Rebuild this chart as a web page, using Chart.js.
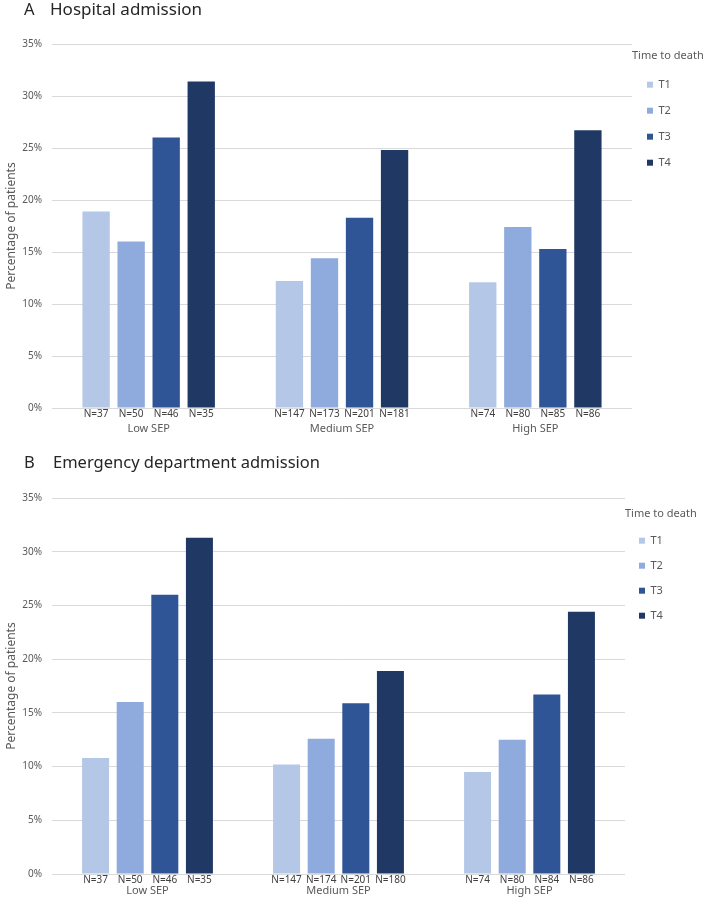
<!DOCTYPE html>
<html>
<head>
<meta charset="utf-8">
<script src="https://cdn.jsdelivr.net/npm/chart.js@4.4.1/dist/chart.umd.min.js"></script>
<style>
  body { margin: 0; background: #fff; font-family: "Noto Sans", sans-serif; }
  .panel { position: absolute; left: 0; width: 708px; }
  .heading { position: absolute; font-size: 16.5px; color: #262626; white-space: nowrap; }
  canvas { position: absolute; left: 0; top: 0; }
</style>
</head>
<body>
<div class="panel" style="top:0;height:440px">
  <canvas id="chartA" width="708" height="440"></canvas>
  <div class="heading" style="left:24px;top:-3px">A</div>
  <div class="heading" style="left:50px;top:-3px;font-size:17px">Hospital admission</div>
</div>
<div class="panel" style="top:440px;height:459px">
  <canvas id="chartB" width="708" height="459"></canvas>
  <div class="heading" style="left:24px;top:10px">B</div>
  <div class="heading" style="left:53px;top:10px">Emergency department admission</div>
</div>
<script>
const categories = ["Low SEP", "Medium SEP", "High SEP"];
const seriesNames = ["T1", "T2", "T3", "T4"];
const seriesColors = ["#b4c7e7", "#8faadc", "#2f5597", "#203864"];
const yTicks = [0, 5, 10, 15, 20, 25, 30, 35];

// A - hospital admission (% of patients), one array per time-to-death group
const hospT1 = [18.9, 12.2, 12.1];
const hospT2 = [16.0, 14.4, 17.4];
const hospT3 = [26.0, 18.3, 15.3];
const hospT4 = [31.4, 24.8, 26.7];
const hospN1 = [37, 147, 74];
const hospN2 = [50, 173, 80];
const hospN3 = [46, 201, 85];
const hospN4 = [35, 181, 86];

// B - emergency department admission
const edT1 = [10.8, 10.2, 9.5];
const edT2 = [16.0, 12.6, 12.5];
const edT3 = [26.0, 15.9, 16.7];
const edT4 = [31.3, 18.9, 24.4];
const edN1 = [37, 147, 74];
const edN2 = [50, 174, 80];
const edN3 = [46, 201, 84];
const edN4 = [35, 180, 86];

// writes "N=.." under every bar, at the bar's own x
const nLabels = {
  id: "nLabels",
  afterDraw(chart, args, opts) {
    const ctx = chart.ctx;
    ctx.save();
    ctx.font = '10px "Noto Sans"';
    ctx.fillStyle = "#404040";
    ctx.textAlign = "center";
    ctx.textBaseline = "middle";
    chart.data.datasets.forEach((ds, i) => {
      chart.getDatasetMeta(i).data.forEach((bar, j) => {
        ctx.fillText("N=" + ds.counts[j], bar.x, chart.chartArea.bottom + opts.offset);
      });
    });
    ctx.restore();
  }
};

// legend box is sized from the item labels only, so widen it to fit its title
const legendWidth = {
  id: "legendWidth",
  beforeLayout(chart, args, opts) {
    const lg = chart.legend;
    if (lg && !lg._widened) {
      const fit = lg.fit.bind(lg);
      lg.fit = function () { fit(); this.width = opts.width; };
      lg._widened = true;
    }
  }
};

function makeChart(id, values, counts, lay) {
  const ctx = document.getElementById(id).getContext("2d");
  return new Chart(ctx, {
    type: "bar",
    data: {
      labels: categories,
      datasets: seriesNames.map((name, i) => ({
        label: name,
        data: values[i],
        counts: counts[i],
        backgroundColor: seriesColors[i],
        categoryPercentage: 0.725,
        barPercentage: 0.78
      }))
    },
    options: {
      responsive: false,
      animation: false,
      layout: { padding: { left: 0, right: 0, top: lay.top, bottom: 0 } },
      scales: {
        x: {
          grid: { display: false, drawTicks: false },
          border: { display: false },
          ticks: { color: "#595959", font: { family: "Noto Sans", size: 11 }, padding: lay.xPad },
          afterFit: (scale) => { scale.height = lay.xHeight; }
        },
        y: {
          min: 0,
          max: 35,
          afterBuildTicks: (scale) => { scale.ticks = yTicks.map(v => ({ value: v })); },
          grid: { color: "#d9d9d9", drawTicks: false },
          border: { display: false },
          ticks: {
            color: "#595959",
            font: { family: "Noto Sans", size: 10 },
            padding: 10,
            callback: (v) => v + "%"
          },
          title: {
            display: true,
            text: "Percentage of patients",
            color: "#595959",
            font: { family: "Noto Sans", size: 12 },
            padding: { top: 4, bottom: 0 }
          },
          afterFit: (scale) => { scale.width = 52; }
        }
      },
      plugins: {
        legend: {
          position: "right",
          align: "start",
          title: {
            display: true,
            position: "start",
            text: "Time to death",
            color: "#595959",
            font: { family: "Noto Sans", size: 11 },
            padding: lay.legendTitlePad
          },
          labels: {
            boxWidth: 6,
            boxHeight: 6,
            padding: lay.legendPad,
            color: "#595959",
            font: { family: "Noto Sans", size: 11 }
          }
        },
        legendWidth: { width: lay.legendW },
        tooltip: { enabled: false },
        nLabels: { offset: lay.nOffset }
      }
    },
    plugins: [nLabels, legendWidth]
  });
}

makeChart("chartA", [hospT1, hospT2, hospT3, hospT4], [hospN1, hospN2, hospN3, hospN4], {
  top: 44, xHeight: 32, xPad: 14, nOffset: 6, legendW: 76,
  legendPad: 15, legendTitlePad: { top: 6, bottom: 1 }
});

makeChart("chartB", [edT1, edT2, edT3, edT4], [edN1, edN2, edN3, edN4], {
  top: 58, xHeight: 25, xPad: 10, nOffset: 6.5, legendW: 83,
  legendPad: 14, legendTitlePad: { top: 10, bottom: 0 }
});
</script>
</body>
</html>
